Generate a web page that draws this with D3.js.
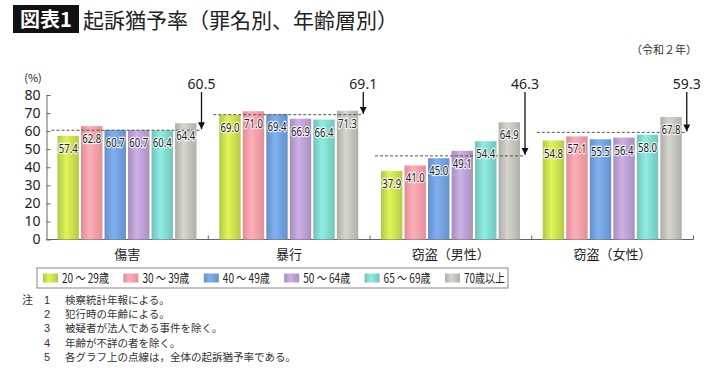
<!DOCTYPE html>
<html>
<head>
<meta charset="utf-8">
<script src="https://cdn.jsdelivr.net/npm/d3@7"></script>
<style>
  body { margin: 0; background: #fff; }
  text { font-family: "Noto Sans CJK JP", "Noto Sans", sans-serif; }
</style>
</head>
<body>
<div id="chart"></div>
<script>
// data
var categories = ["傷害", "暴行", "窃盗（男性）", "窃盗（女性）"];
var ageGroups = ["20 ～ 29歳", "30 ～ 39歳", "40 ～ 49歳", "50 ～ 64歳", "65 ～ 69歳", "70歳以上"];
var values = [
    [57.4, 62.8, 60.7, 60.7, 60.4, 64.4],
    [69.0, 71.0, 69.4, 66.9, 66.4, 71.3],
    [37.9, 41.0, 45.0, 49.1, 54.4, 64.9],
    [54.8, 57.1, 55.5, 56.4, 58.0, 67.8]
];
var overall = [60.5, 69.1, 46.3, 59.3];
var yTicks = [0, 10, 20, 30, 40, 50, 60, 70, 80];
var notes = [
    "検察統計年報による。",
    "犯行時の年齢による。",
    "被疑者が法人である事件を除く。",
    "年齢が不詳の者を除く。",
    "各グラフ上の点線は，全体の起訴猶予率である。"
];

var colors = ["#c6d84c", "#f29aa3", "#6f9cd6", "#b69bcd", "#7dd2c8", "#bdbdb6"];

var svgWidth = 710;
var svgHeight = 371;

var svg = d3.select("#chart")
    .append("svg")
    .attr("width", svgWidth)
    .attr("height", svgHeight);

// gradients for the bars
var defs = svg.append("defs");
colors.forEach(function(c, i) {
    var g = defs.append("linearGradient")
        .attr("id", "grad" + i)
        .attr("x1", "0%").attr("x2", "100%")
        .attr("y1", "0%").attr("y2", "0%");
    g.append("stop").attr("offset", "0%").attr("stop-color", d3.color(c).darker(0.25));
    g.append("stop").attr("offset", "40%").attr("stop-color", d3.color(c).brighter(0.35));
    g.append("stop").attr("offset", "100%").attr("stop-color", d3.color(c).darker(0.2));
});

// title
svg.append("rect")
    .attr("x", 13).attr("y", 5)
    .attr("width", 66).attr("height", 28)
    .attr("fill", "#111");
svg.append("text")
    .attr("x", 46).attr("y", 27)
    .attr("text-anchor", "middle")
    .attr("fill", "#fff")
    .attr("font-size", 20)
    .attr("font-weight", 700)
    .text("図表1");
svg.append("text")
    .attr("x", 83).attr("y", 28)
    .attr("fill", "#222")
    .attr("font-size", 21)
    .attr("font-weight", 400)
    .text("起訴猶予率（罪名別、年齢層別）");

svg.append("text")
    .attr("x", 697).attr("y", 54)
    .attr("text-anchor", "end")
    .attr("fill", "#333")
    .attr("font-size", 11)
    .text("（令和２年）");

// scales
var x0 = d3.scaleBand()
    .domain(categories)
    .range([46.5, 693.5]);

var x1 = d3.scaleBand()
    .domain(ageGroups)
    .range([11, 150])
    .paddingInner(0.09);

var y = d3.scaleLinear()
    .domain([0, 80])
    .range([239.5, 95]);

// y axis
var yAxis = svg.append("g")
    .attr("transform", "translate(46.5,0)")
    .call(d3.axisLeft(y).tickValues(yTicks).tickSizeInner(-4).tickSizeOuter(0).tickPadding(6));
yAxis.select(".domain").attr("stroke", "#666");
yAxis.selectAll(".tick line").attr("stroke", "#666");
yAxis.selectAll(".tick text")
    .attr("font-size", 14)
    .attr("fill", "#222")
    .style("font-family", "'Noto Sans', sans-serif");

svg.append("text")
    .attr("x", 33).attr("y", 82)
    .attr("text-anchor", "middle")
    .attr("font-size", 11)
    .attr("fill", "#222")
    .text("(%)");

// x axis line and group ticks
svg.append("line")
    .attr("x1", x0.range()[0]).attr("x2", x0.range()[1])
    .attr("y1", y(0)).attr("y2", y(0))
    .attr("stroke", "#666");
svg.selectAll(".xtick")
    .data(categories.slice(1).concat(["end"]))
    .enter()
    .append("line")
    .attr("class", "xtick")
    .attr("x1", d => d === "end" ? x0.range()[1] : x0(d))
    .attr("x2", d => d === "end" ? x0.range()[1] : x0(d))
    .attr("y1", y(0)).attr("y2", y(0) - 4)
    .attr("stroke", "#666");

// groups
var groups = svg.selectAll(".group")
    .data(categories)
    .enter()
    .append("g")
    .attr("class", "group")
    .attr("transform", d => `translate(${x0(d)},0)`);

groups.selectAll("rect")
    .data((d, i) => values[i].map((v, j) => ({ age: ageGroups[j], v: v, j: j })))
    .enter()
    .append("rect")
    .attr("x", d => x1(d.age))
    .attr("y", d => y(d.v))
    .attr("width", x1.bandwidth())
    .attr("height", d => y(0) - y(d.v))
    .attr("fill", d => "url(#grad" + d.j + ")");

// dashed overall line
groups.append("line")
    .attr("x1", 5).attr("x2", 155)
    .attr("y1", (d, i) => y(overall[i]))
    .attr("y2", (d, i) => y(overall[i]))
    .attr("stroke", "#555")
    .attr("stroke-width", 1)
    .attr("stroke-dasharray", "3,2");

// value labels
groups.selectAll(".val")
    .data((d, i) => values[i].map((v, j) => ({ age: ageGroups[j], v: v })))
    .enter()
    .append("text")
    .attr("class", "val")
    .attr("x", d => x1(d.age) + x1.bandwidth() / 2)
    .attr("y", d => y(d.v) + 17)
    .attr("text-anchor", "middle")
    .attr("font-size", 13)
    .attr("textLength", 19)
    .attr("lengthAdjust", "spacingAndGlyphs")
    .attr("fill", "#222")
    .attr("stroke", "#fff")
    .attr("stroke-width", 2.5)
    .attr("stroke-opacity", 0.85)
    .attr("paint-order", "stroke")
    .style("font-family", "'Noto Sans', sans-serif")
    .text(d => d.v.toFixed(1));

// overall label + arrow
defs.append("marker")
    .attr("id", "arrow")
    .attr("viewBox", "0 0 10 10")
    .attr("refX", 10).attr("refY", 5)
    .attr("markerWidth", 7).attr("markerHeight", 7)
    .attr("markerUnits", "userSpaceOnUse")
    .attr("orient", "auto")
    .append("path")
    .attr("d", "M0,0L10,5L0,10z")
    .attr("fill", "#111");

groups.append("line")
    .attr("x1", 155).attr("x2", 155)
    .attr("y1", 92)
    .attr("y2", (d, i) => y(overall[i]) - 1)
    .attr("stroke", "#111")
    .attr("stroke-width", 1.3)
    .attr("marker-end", "url(#arrow)");

groups.append("text")
    .attr("x", 155).attr("y", 89)
    .attr("text-anchor", "middle")
    .attr("font-size", 14)
    .attr("fill", "#222")
    .style("font-family", "'Noto Sans', sans-serif")
    .text((d, i) => overall[i].toFixed(1));

// category labels
groups.append("text")
    .attr("x", x0.bandwidth() / 2)
    .attr("y", 259)
    .attr("text-anchor", "middle")
    .attr("font-size", 13)
    .attr("fill", "#222")
    .text(d => d);

// legend
svg.append("rect")
    .attr("x", 37).attr("y", 268)
    .attr("width", 471).attr("height", 20)
    .attr("fill", "#fff")
    .attr("stroke", "#888");

var legend = svg.selectAll(".legend")
    .data(ageGroups)
    .enter()
    .append("g")
    .attr("class", "legend")
    .attr("transform", (d, i) => `translate(${43 + i * 80.4},278)`);

legend.append("rect")
    .attr("x", 0).attr("y", -4.5)
    .attr("width", 15).attr("height", 9)
    .attr("fill", (d, i) => "url(#grad" + i + ")");

legend.append("text")
    .attr("x", 19).attr("y", 4.5)
    .attr("font-size", 12.5)
    .attr("textLength", (d, i) => i === 5 ? 41 : 47)
    .attr("lengthAdjust", "spacingAndGlyphs")
    .attr("fill", "#222")
    .text(d => d);

// notes
svg.append("text")
    .attr("x", 22).attr("y", 304)
    .attr("font-size", 11)
    .attr("fill", "#333")
    .text("注");

var noteRows = svg.selectAll(".note")
    .data(notes)
    .enter()
    .append("g")
    .attr("class", "note")
    .attr("transform", (d, i) => `translate(0,${304 + i * 14.2})`);

noteRows.append("text")
    .attr("x", 50)
    .attr("text-anchor", "end")
    .attr("font-size", 11)
    .attr("fill", "#333")
    .style("font-family", "'Liberation Sans', sans-serif")
    .text((d, i) => i + 1);

noteRows.append("text")
    .attr("x", 65)
    .attr("font-size", 10.5)
    .attr("fill", "#333")
    .text(d => d);
</script>
</body>
</html>
